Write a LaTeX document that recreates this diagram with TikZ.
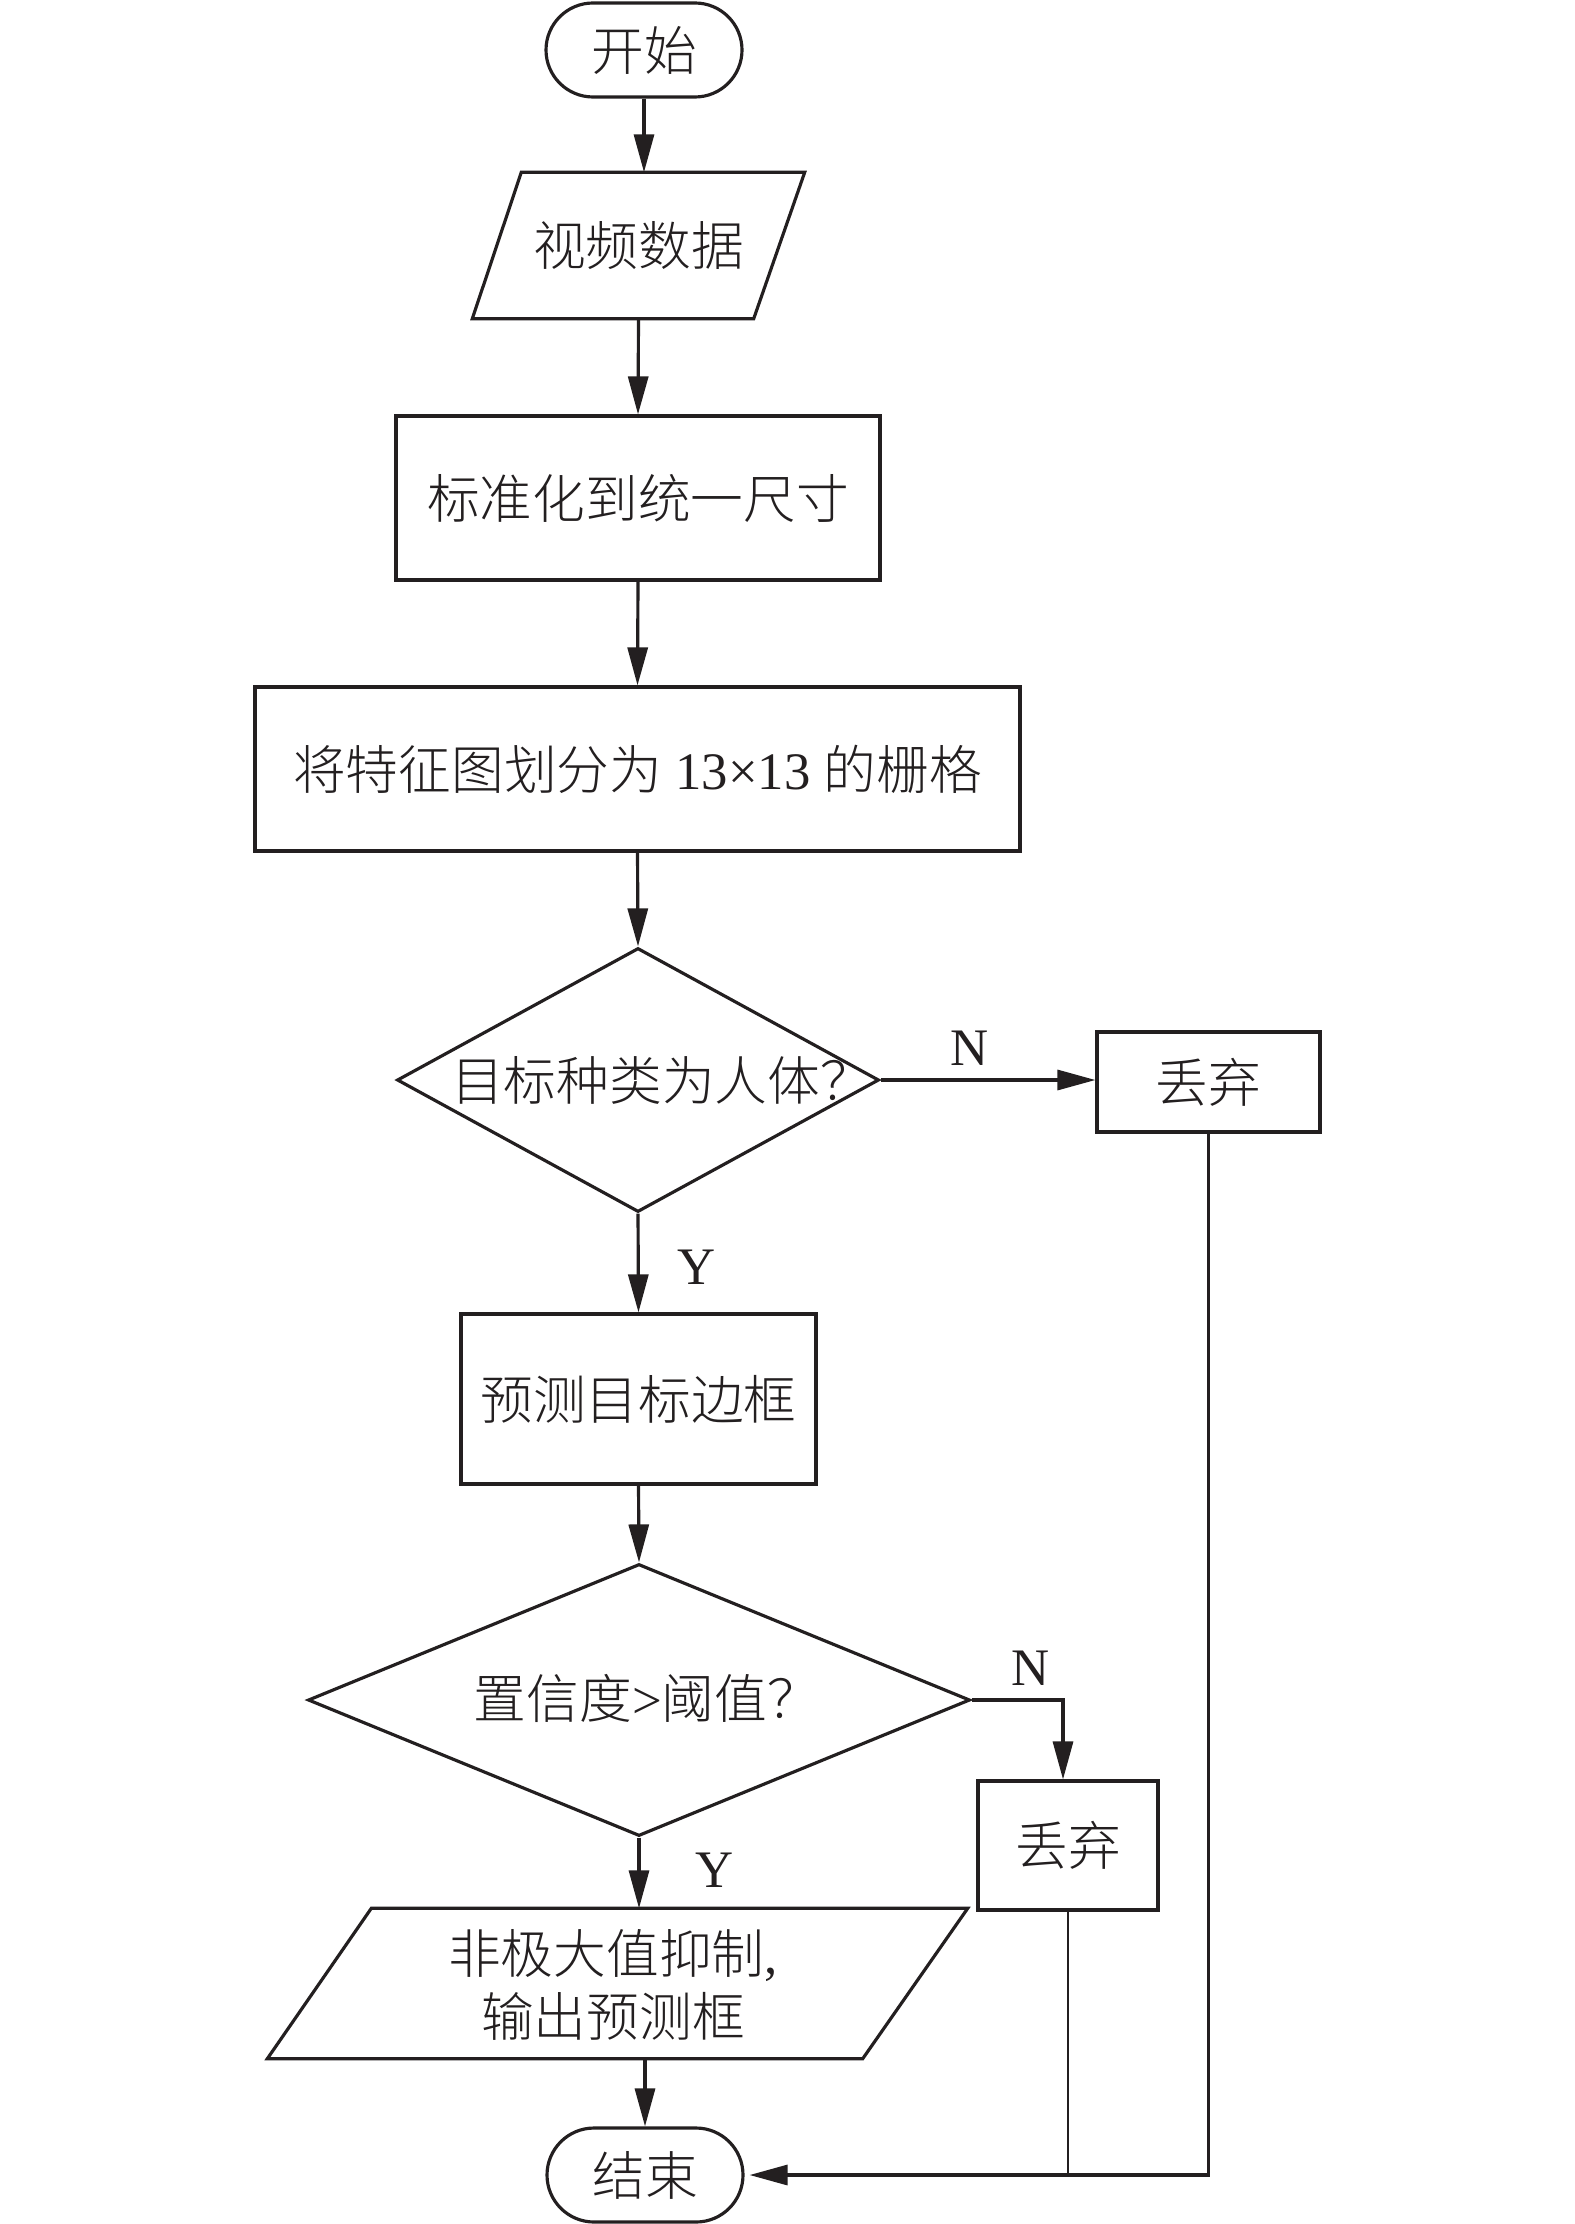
\documentclass[tikz,border=0pt]{standalone}
\usepackage{fontspec}
\setmainfont{Liberation Serif}
\newfontfamily\cjk{Noto Sans CJK SC}[UprightFont={* Light}]
\usetikzlibrary{shapes.geometric,shapes.misc,arrows.meta,calc}
\definecolor{ink}{HTML}{231F20}
\begin{document}
\begin{tikzpicture}[x=0.1mm,y=-0.1mm,
  every node/.style={font=\fontsize{15}{18}\selectfont, text=ink},
  box/.style={draw=ink, line width=0.9pt, rectangle, inner sep=0pt},
  term/.style={draw=ink, line width=0.9pt, rounded rectangle, minimum width=19.6mm, minimum height=9.4mm, inner sep=0pt},
  dia/.style={draw=ink, line width=0.9pt, diamond, inner sep=0pt, line join=miter},
  plain/.style={inner sep=0pt},
  para/.style={draw=ink, line width=0.9pt, line join=miter},
  arr/.style={draw=ink, line width=0.9pt, -{Triangle[length=3.8mm,width=2mm]}},
  ln/.style={draw=ink, line width=0.75pt},
  lab/.style={inner sep=0pt},
]
\useasboundingbox (0,0) rectangle (1575,2224);
\fill[white] (0,0) rectangle (1575,2224);

% nodes
\node[term] (start) at (644,50) {\cjk 开始};

\node[plain, minimum width=33.1mm, minimum height=14.5mm] (data) at (638.5,245.5) {\cjk 视频数据};
\draw[para] ($(data.north west)+(49,0)$) -- (data.north east) -- ($(data.south east)+(-51,0)$) -- (data.south west) -- cycle;

\node[box, minimum width=48.4mm, minimum height=16.4mm] (norm) at (638,498) {\cjk 标准化到统一尺寸};

\node[box, minimum width=76.5mm, minimum height=16.4mm] (grid) at (637.5,769) {{\cjk 将特征图划分为} 13×13 {\cjk 的栅格}};

\node[dia, minimum width=48.2mm, minimum height=26.4mm] (d1) at (638,1080) {};
\node[lab] (d1t) at (662,1080) {\cjk 目标种类为人体？};

\node[box, minimum width=22.3mm, minimum height=10mm] (dis1) at (1208.5,1082) {\cjk 丢弃};

\node[box, minimum width=35.5mm, minimum height=17mm] (pred) at (638.5,1399) {\cjk 预测目标边框};

\node[dia, minimum width=66.2mm, minimum height=27.2mm] (d2) at (639,1700) {};
\node[lab] (d2t) at (647,1698) {{\cjk 置信度}>{\cjk 阈值？}};

\node[box, minimum width=18mm, minimum height=12.9mm] (dis2) at (1068,1845.5) {\cjk 丢弃};

\node[plain, minimum width=69.9mm, minimum height=14.9mm] (nms) at (617.5,1983.5) {};
\draw[para] ($(nms.north west)+(104,0)$) -- (nms.north east) -- ($(nms.south east)+(-105,0)$) -- (nms.south west) -- cycle;
\node[lab, align=center, font=\fontsize{15}{17.9}\selectfont] (nmst) at (613,1985) {{\cjk 非极大值抑制},\\{\cjk 输出预测框}};

\node[term] (end) at (645,2175) {\cjk 结束};

% labels
\node[lab] (n1) at (970,1048) {N};
\node[lab] (y1) at (697,1267) {Y};
\node[lab] (n2) at (1031,1668) {N};
\node[lab] (y2) at (715,1870) {Y};

\coordinate (c2) at (1063,1700);

% connectors
\draw[arr] (start.south) -- (start.south |- data.north);
\draw[arr] (data.south) -- (norm.north);
\draw[arr] (norm.south) -- (grid.north);
\draw[arr] (grid.south) -- (d1.north);
\draw[arr] (d1.east) -- (d1.east -| dis1.west);
\draw[arr] (d1.south) -- (pred.north);
\draw[arr] (pred.south) -- (d2.north);
\draw[arr] (d2.east) -- (c2) -- (c2 |- dis2.north);
\draw[arr] (d2.south) -- (d2.south |- nms.north);
\draw[arr] (end.north |- nms.south) -- (end.north);
\draw[arr, shorten >=0.5mm] (dis1.south) |- (end.east);
\draw[ln] (dis2.south) -- (dis2.south |- end.east);
\end{tikzpicture}
\end{document}
